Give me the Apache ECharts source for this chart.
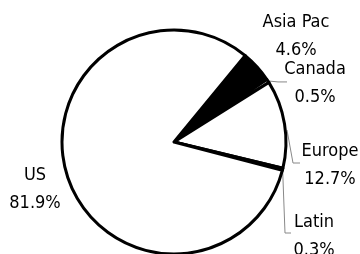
<!DOCTYPE html>
<html style="height: 100%">

	<head>
		<meta charset="utf-8">
	</head>

	<body style="height: 100%; margin: 0; background: #fff">
		<div id="container" style="width: 360px; height: 254px"></div>

		<script type="text/javascript" src="https://cdn.jsdelivr.net/npm/echarts@6/dist/echarts.min.js"></script>

		<script type="text/javascript">
			// regions, going clockwise from the top of the Asia Pac slice
			var regions = ['Asia Pac', 'Canada', 'Europe', 'Latin', 'US'];
			var shares = [4.6, 0.5, 12.7, 0.3, 81.9];
			var fills = ['#000', '#fff', '#fff', '#fff', '#fff'];

			// where each label sits (centre of the text block) and its leader line
			var labelPos = [[296, 36], [315, 83], [330, 165], [314, 236], [35, 189]];
			var hasLeader = [false, true, true, true, false];

			var dom = document.getElementById("container");
			var myChart = echarts.init(dom, null, { renderer: 'canvas' });

			var data = regions.map(function(name, i) {
				return {
					name: name,
					value: shares[i],
					itemStyle: { color: fills[i] },
					labelLine: { show: hasLeader[i] }
				};
			});

			var option = {
				animation: false,
				series: [{
					type: 'pie',
					center: [174, 142],
					radius: 112,
					startAngle: 50.5,
					clockwise: true,
					sort: false,
					minAngle: 0,
					avoidLabelOverlap: false,
					itemStyle: {
						borderColor: '#000',
						borderWidth: 3
					},
					label: {
						show: true,
						position: 'outside',
						formatter: '{b}\n{c}%',
						fontFamily: '"Liberation Sans Narrow", "DejaVu Sans Condensed", "Liberation Sans", sans-serif',
						fontSize: 18,
						lineHeight: 28,
						color: '#000',
						align: 'center'
					},
					labelLine: {
						show: true,
						lineStyle: { color: '#888', width: 1 }
					},
					labelLayout: function(params) {
						var i = params.dataIndex;
						var pos = labelPos[i];
						var out = {
							x: pos[0],
							y: pos[1],
							align: 'center',
							verticalAlign: 'middle'
						};
						var pts = params.labelLinePoints;
						if (hasLeader[i] && pts) {
							var s = pts[0];
							if (regions[i] === 'Canada') {
								out.labelLinePoints = [s, [278, s[1] + 1], [287, s[1] + 1]];
							} else if (regions[i] === 'Europe') {
								out.labelLinePoints = [[287, 130], [293, 163], [300, 163]];
							} else {
								out.labelLinePoints = [s, [285, 233], [291, 233]];
							}
						}
						return out;
					},
					data: data
				}]
			};

			myChart.setOption(option);
		</script>
	</body>

</html>
